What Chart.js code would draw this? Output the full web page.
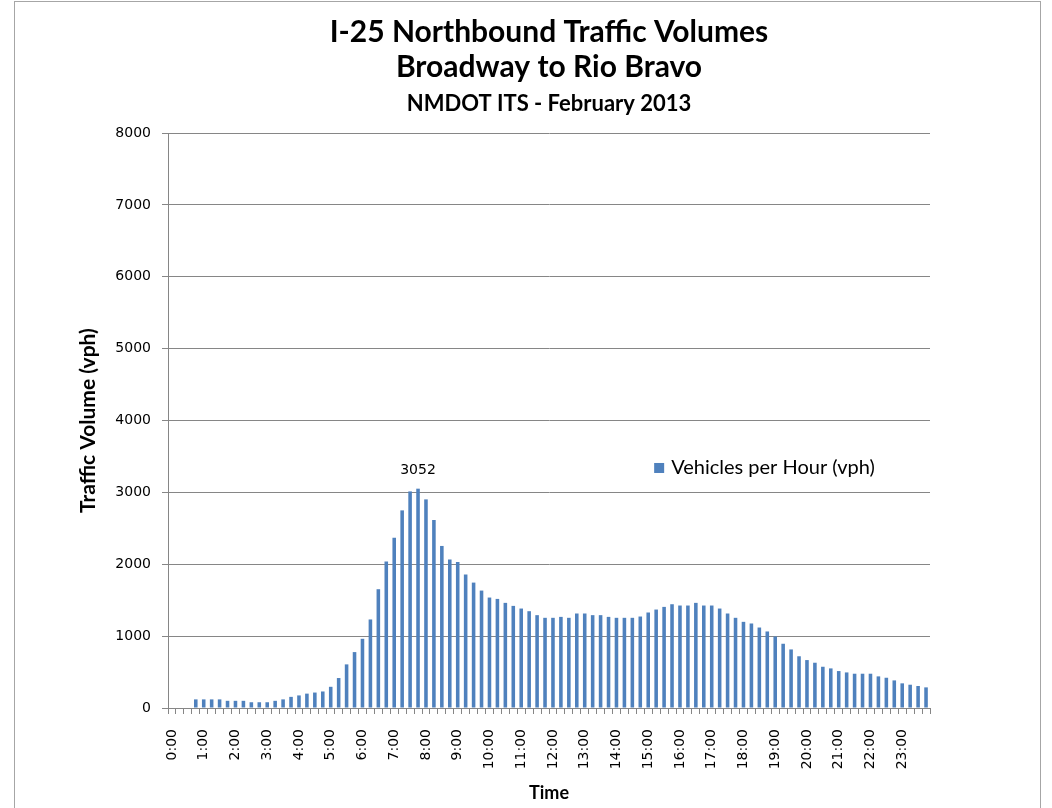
<!DOCTYPE html>
<html>
<head>
<meta charset="utf-8">
<script src="https://cdn.jsdelivr.net/npm/chart.js@4.4.1/dist/chart.umd.min.js"></script>
<style>
  html, body { margin: 0; padding: 0; background: #fff; }
  #frame { position: absolute; left: 14px; top: 1px; width: 1025px; height: 900px; border: 1px solid #a6a6a6; }
  #wrap { position: absolute; left: 0; top: 0; width: 1052px; height: 808px; }
</style>
</head>
<body>
<div id="frame"></div>
<div id="wrap"><canvas id="trafficChart"></canvas></div>
<script>
// quarter-hour bins, only the full hours get a tick label
const timeLabels = [
  "0:00", "0:15", "0:30", "0:45", "1:00", "1:15", "1:30", "1:45",
  "2:00", "2:15", "2:30", "2:45", "3:00", "3:15", "3:30", "3:45",
  "4:00", "4:15", "4:30", "4:45", "5:00", "5:15", "5:30", "5:45",
  "6:00", "6:15", "6:30", "6:45", "7:00", "7:15", "7:30", "7:45",
  "8:00", "8:15", "8:30", "8:45", "9:00", "9:15", "9:30", "9:45",
  "10:00", "10:15", "10:30", "10:45", "11:00", "11:15", "11:30", "11:45",
  "12:00", "12:15", "12:30", "12:45", "13:00", "13:15", "13:30", "13:45",
  "14:00", "14:15", "14:30", "14:45", "15:00", "15:15", "15:30", "15:45",
  "16:00", "16:15", "16:30", "16:45", "17:00", "17:15", "17:30", "17:45",
  "18:00", "18:15", "18:30", "18:45", "19:00", "19:15", "19:30", "19:45",
  "20:00", "20:15", "20:30", "20:45", "21:00", "21:15", "21:30", "21:45",
  "22:00", "22:15", "22:30", "22:45", "23:00", "23:15", "23:30", "23:45",
];

const vehiclesPerHour = [
  null, null, null, 120, 120, 120, 120, 100,
  100, 100, 80, 80, 80, 100, 120, 155,
  175, 200, 215, 230, 295, 417, 607, 778,
  963, 1232, 1653, 2037, 2370, 2750, 3014, 3052,
  2903, 2616, 2255, 2065, 2033, 1857, 1745, 1634,
  1537, 1518, 1463, 1421, 1384, 1347, 1292, 1255,
  1255, 1268, 1255, 1315, 1315, 1292, 1292, 1268,
  1255, 1255, 1255, 1273, 1329, 1370, 1407, 1444,
  1426, 1426, 1463, 1426, 1426, 1384, 1315, 1255,
  1199, 1176, 1120, 1065, 995, 894, 815, 720,
  667, 630, 574, 551, 514, 495, 477, 477,
  477, 440, 421, 384, 343, 324, 306, 287,
];

const yMin = 0;
const yMax = 8000;
const yStep = 1000;

const titleLines = ["I-25 Northbound Traffic Volumes", "Broadway to Rio Bravo"];
const subtitleText = "NMDOT ITS - February 2013";
const seriesName = "Vehicles per Hour (vph)";

const barBlue = "#4f81bd";
const gridGrey = "#868686";
const tickFont = { family: "DejaVu Sans", size: 14 };

// label only the tallest bar, like the excel chart
const peakLabel = {
  id: "peakLabel",
  afterDatasetsDraw(chart) {
    const data = chart.data.datasets[0].data;
    let best = 0;
    data.forEach((v, i) => { if (v != null && v > data[best]) best = i; });
    const bar = chart.getDatasetMeta(0).data[best];
    const ctx = chart.ctx;
    ctx.save();
    ctx.font = "14px 'DejaVu Sans'";
    ctx.fillStyle = "#000";
    ctx.textAlign = "center";
    ctx.textBaseline = "bottom";
    ctx.fillText(String(data[best]), bar.x, bar.y - 11);
    ctx.restore();
  },
};

// legend floats inside the plot on the right
const floatLegend = {
  id: "floatLegend",
  afterDraw(chart) {
    const ds = chart.data.datasets[0];
    const area = chart.chartArea;
    const x = area.left + (area.right - area.left) * 0.638;
    const y = chart.scales.y.getPixelForValue(3340);
    const ctx = chart.ctx;
    ctx.save();
    ctx.fillStyle = ds.backgroundColor;
    ctx.fillRect(x, y - 5, 10, 10);
    ctx.font = "20px Lato";
    ctx.fillStyle = "#000";
    ctx.textBaseline = "middle";
    ctx.fillText(ds.label, x + 17, y);
    ctx.restore();
  },
};

new Chart(document.getElementById("trafficChart"), {
  type: "bar",
  data: {
    labels: timeLabels,
    datasets: [{
      label: seriesName,
      data: vehiclesPerHour,
      backgroundColor: barBlue,
      barPercentage: 0.45,
      categoryPercentage: 1,
    }],
  },
  options: {
    responsive: true,
    maintainAspectRatio: false,
    animation: false,
    layout: { padding: { left: 72, right: 122, top: 0, bottom: 0 } },
    plugins: {
      legend: { display: false },
      tooltip: { enabled: false },
      title: {
        display: true,
        fullSize: false,
        text: titleLines,
        color: "#000",
        font: { family: "Lato", size: 30, weight: "bold", lineHeight: 1.17 },
        padding: { top: 14.5, bottom: 0 },
      },
      subtitle: {
        display: true,
        fullSize: false,
        text: subtitleText,
        color: "#000",
        font: { family: "Lato", size: 22, weight: "bold", lineHeight: 1.2 },
        padding: { top: 6, bottom: 16 },
      },
    },
    scales: {
      x: {
        afterFit(scale) { scale.height = 100; },
        border: { color: gridGrey },
        grid: { offset: true, drawOnChartArea: false, drawTicks: true, tickLength: 6, color: gridGrey },
        ticks: {
          autoSkip: false,
          maxRotation: 90,
          minRotation: 90,
          padding: 15,
          color: "#000",
          font: tickFont,
          callback(value, index) { return index % 4 === 0 ? this.getLabelForValue(value) : ""; },
        },
        title: {
          display: true,
          text: "Time",
          color: "#000",
          font: { family: "Lato", size: 18, weight: "bold" },
        },
      },
      y: {
        min: yMin,
        max: yMax,
        afterFit(scale) { scale.width = 96; },
        border: { color: gridGrey },
        grid: { color: gridGrey, tickLength: 6 },
        ticks: {
          stepSize: yStep,
          padding: 11,
          color: "#000",
          font: tickFont,
          callback: (value) => String(value),
        },
        title: {
          display: true,
          text: "Traffic Volume (vph)",
          color: "#000",
          font: { family: "Lato", size: 21, weight: "bold" },
        },
      },
    },
  },
  plugins: [peakLabel, floatLegend],
});
</script>
</body>
</html>
